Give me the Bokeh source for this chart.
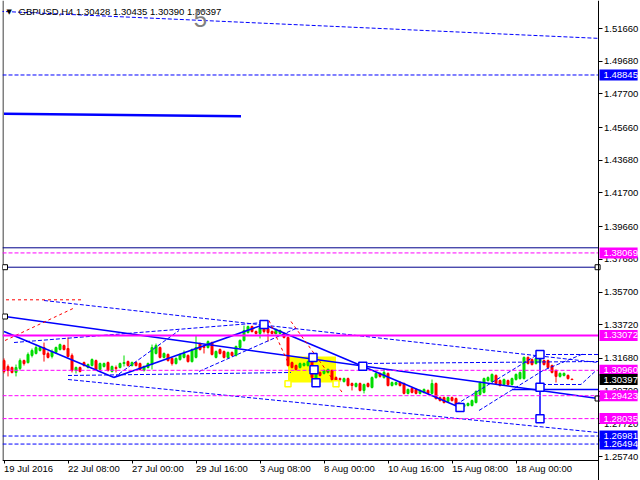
from bokeh.plotting import figure
from bokeh.models import Range1d, FixedTicker, PrintfTickFormatter, Label, GlobalInlineStyleSheet
from bokeh.core.properties import value
from bokeh.embed import file_html
from bokeh.resources import INLINE

BLUE = "#0000ff"
MAG = "#ff00ff"
RED = "#ff0000"
GREEN = "#00dc00"
FONT = "Liberation Sans"
FS = "9.5px"

# ---- H4 candles (bar index 0 = 19 Jul 2016 00:00) ----
opens = [
1.3155,1.3119,1.3113,1.3083,1.3107,1.3155,1.3143,1.3186,1.3198,1.3216,
1.3234,1.3198,1.3180,1.3204,1.3222,1.3246,1.3228,1.3186,1.3095,1.3113,
1.3143,1.3113,1.3125,1.3155,1.3101,1.3119,1.3143,1.3089,1.3113,1.3113,
1.3137,1.3149,1.3125,1.3143,1.3137,1.3095,1.3113,1.3131,1.3198,1.3234,
1.3174,1.3192,1.3168,1.3137,1.3161,1.3174,1.3186,1.3149,1.3174,1.3258,
1.3240,1.3234,1.3264,1.3174,1.3222,1.3210,1.3174,1.3204,1.3186,1.3234,
1.3277,1.3325,1.3361,1.3331,1.3319,1.3355,1.3349,1.3331,1.3319,1.3319,
1.3319,1.3295,1.3143,1.3125,1.3113,1.3125,1.3125,1.3149,1.3040,1.3083,
1.3077,1.3083,1.3095,1.3052,1.3046,1.3028,1.3046,1.3016,1.2998,1.3016,
1.2974,1.3016,1.2992,1.3052,1.3077,1.3052,1.3077,1.3004,1.3010,1.3022,
1.3016,1.2956,1.2986,1.2980,1.2956,1.2962,1.2974,1.2956,1.3016,1.2931,
1.2931,1.2907,1.2931,1.2925,1.2895,1.2877,1.2883,1.2883,1.2901,1.2950,
1.2962,1.3034,1.3028,1.3065,1.3034,1.3010,1.3034,1.3010,1.3040,1.3046,
1.3046,1.3174,1.3161,1.3137,1.3143,1.3155,1.3155,1.3125,1.3095,1.3059,
1.3065,1.3065,1.30428]
highs = [
1.3168,1.3131,1.3119,1.3131,1.3168,1.3161,1.3204,1.3228,1.3246,1.3240,
1.3264,1.3210,1.3222,1.3240,1.3258,1.3252,1.3295,1.3198,1.3119,1.3119,
1.3149,1.3137,1.3168,1.3161,1.3143,1.3143,1.3149,1.3125,1.3125,1.3143,
1.3186,1.3155,1.3149,1.3149,1.3143,1.3125,1.3143,1.3252,1.3258,1.3240,
1.3204,1.3198,1.3174,1.3174,1.3198,1.3216,1.3192,1.3228,1.3307,1.3264,
1.3246,1.3277,1.3270,1.3216,1.3228,1.3216,1.3210,1.3210,1.3246,1.3283,
1.3367,1.3367,1.3367,1.3337,1.3367,1.3367,1.3355,1.3337,1.3349,1.3343,
1.3325,1.3301,1.3149,1.3131,1.3143,1.3143,1.3155,1.3161,1.3101,1.3089,
1.3101,1.3107,1.3101,1.3059,1.3052,1.3052,1.3052,1.3022,1.3022,1.3022,
1.3016,1.3022,1.3059,1.3083,1.3083,1.3107,1.3083,1.3028,1.3028,1.3028,
1.3022,1.2986,1.2992,1.2986,1.2980,1.2986,1.2980,1.3040,1.3022,1.2937,
1.2937,1.2937,1.2937,1.2931,1.2901,1.2895,1.2901,1.2919,1.2974,1.3028,
1.3052,1.3059,1.3077,1.3071,1.3040,1.3046,1.3040,1.3052,1.3077,1.3089,
1.3180,1.3180,1.3168,1.3174,1.3174,1.3161,1.3161,1.3131,1.3101,1.3083,
1.3083,1.3071,1.30435]
lows = [
1.3077,1.3059,1.3077,1.3059,1.3095,1.3125,1.3137,1.3174,1.3192,1.3210,
1.3149,1.3168,1.3168,1.3198,1.3216,1.3216,1.3174,1.3083,1.3077,1.3083,
1.3119,1.3107,1.3119,1.3095,1.3095,1.3113,1.3089,1.3083,1.3083,1.3107,
1.3119,1.3119,1.3119,1.3119,1.3095,1.3089,1.3107,1.3101,1.3192,1.3168,
1.3168,1.3149,1.3125,1.3131,1.3155,1.3168,1.3143,1.3143,1.3168,1.3216,
1.3198,1.3228,1.3186,1.3168,1.3192,1.3168,1.3168,1.3180,1.3180,1.3228,
1.3270,1.3319,1.3325,1.3313,1.3289,1.3319,1.3270,1.3313,1.3313,1.3313,
1.3289,1.3119,1.3107,1.3095,1.3107,1.3119,1.3119,1.3040,1.3034,1.3059,
1.3071,1.3077,1.3034,1.3028,1.3028,1.3022,1.2998,1.2974,1.2992,1.2968,
1.2956,1.2992,1.2986,1.3046,1.3052,1.3046,1.2998,1.2998,1.3004,1.2998,
1.2950,1.2950,1.2956,1.2950,1.2950,1.2956,1.2950,1.2950,1.2919,1.2907,
1.2895,1.2901,1.2907,1.2877,1.2871,1.2871,1.2877,1.2877,1.2895,1.2943,
1.2956,1.3028,1.3022,1.3010,1.2998,1.3004,1.3004,1.3004,1.3034,1.3040,
1.3040,1.3131,1.3125,1.3131,1.3137,1.3125,1.3107,1.3077,1.3022,1.3052,
1.3059,1.3040,1.30390]
closes = [
1.3089,1.3095,1.3083,1.3113,1.3155,1.3137,1.3192,1.3216,1.3234,1.3234,
1.3192,1.3174,1.3210,1.3234,1.3252,1.3222,1.3180,1.3095,1.3113,1.3089,
1.3125,1.3131,1.3161,1.3101,1.3137,1.3137,1.3095,1.3119,1.3107,1.3137,
1.3143,1.3125,1.3143,1.3125,1.3101,1.3119,1.3137,1.3234,1.3246,1.3174,
1.3198,1.3155,1.3137,1.3168,1.3192,1.3198,1.3149,1.3222,1.3234,1.3222,
1.3234,1.3270,1.3192,1.3210,1.3198,1.3174,1.3204,1.3186,1.3240,1.3277,
1.3337,1.3361,1.3331,1.3319,1.3355,1.3331,1.3325,1.3319,1.3343,1.3337,
1.3295,1.3125,1.3113,1.3101,1.3137,1.3137,1.3149,1.3052,1.3095,1.3065,
1.3095,1.3101,1.3040,1.3034,1.3040,1.3046,1.3004,1.3004,1.3016,1.2974,
1.3010,1.2998,1.3052,1.3077,1.3059,1.3083,1.3004,1.3022,1.3022,1.3004,
1.2956,1.2980,1.2962,1.2956,1.2974,1.2980,1.2956,1.3016,1.2925,1.2913,
1.2901,1.2931,1.2913,1.2883,1.2883,1.2889,1.2895,1.2913,1.2968,1.3022,
1.3046,1.3052,1.3071,1.3016,1.3004,1.3040,1.3010,1.3046,1.3071,1.3083,
1.3174,1.3137,1.3131,1.3168,1.3168,1.3131,1.3113,1.3083,1.3059,1.3077,
1.3077,1.3046,1.30397]

tick_bars = [0, 16, 32, 48, 64, 80, 96, 112, 128]
tick_dates = ["19 Jul 2016", "22 Jul 08:00", "27 Jul 00:00", "29 Jul 16:00", "3 Aug 08:00",
              "8 Aug 00:00", "10 Aug 16:00", "15 Aug 08:00", "18 Aug 00:00"]
price_ticks = [1.51660, 1.49680, 1.47700, 1.45660, 1.43680, 1.41700, 1.39660, 1.37680,
               1.35700, 1.33720, 1.31680, 1.29700, 1.27720, 1.25740]

# horizontal levels
magenta_dashed_levels = [1.38069, 1.30960, 1.29423, 1.28035]
magenta_solid_levels = [1.33072]
blue_dashed_levels = [1.48845, 1.26981, 1.26494]
dark_solid_levels = [1.38379, 1.37204]

# trend lines (bar index, price)
solid_x = [[0.25, 148.5], [0.0, 27.5], [27.5, 65.0], [65.0, 114.0], [127.0, 148.5], [134.0, 134.0]]
solid_y = [[1.34219, 1.29253], [1.33310, 1.30525], [1.30525, 1.33734], [1.33734, 1.28708],
           [1.29798, 1.29798], [1.31918, 1.28023]]
thick_x = [0.0, 59.25]
thick_y = [1.46494, 1.46349]
dashed_x = [[-1.0, 148.5], [10.0, 148.5], [2.5, 65.0], [16.0, 71.75], [27.5, 43.75], [16.0, 148.5],
            [48.75, 73.0], [89.5, 148.5], [134.0, 148.5], [118.75, 134.75, 145.0], [113.0, 133.0],
            [134.5, 144.25, 147.75]]
dashed_y = [[1.52701, 1.51065], [1.35188, 1.31433], [1.32644, 1.33856], [1.30646, 1.30828],
            [1.30525, 1.33371], [1.30404, 1.27194], [1.30888, 1.33492], [1.31373, 1.31494],
            [1.31918, 1.31918], [1.28526, 1.30949, 1.31978], [1.28890, 1.31857],
            [1.30101, 1.30101, 1.30888]]
red_x = [[0.5, 19.25], [0.25, 17.25], [71.75, 84.75], [66.25, 71.0]]
red_y = [[1.35230, 1.35230], [1.32765, 1.34703], [1.33916, 1.29556], [1.33977, 1.31433]]
box_left, box_right, box_bottom, box_top = 71.0, 83.0, 1.30222, 1.31797
square_x = [65.0, 77.25, 77.5, 78.0, 89.7, 114.0, 134.0, 134.0, 134.0]
square_y = [1.33734, 1.31736, 1.30991, 1.30204, 1.31209, 1.28708, 1.31918, 1.29937, 1.28023]
small_sq_x = [0.25, 148.4, 0.25, 148.4]
small_sq_y = [1.37204, 1.37204, 1.34219, 1.29253]
yellow_sq_x = [71.0, 83.0]
yellow_sq_y = [1.30143, 1.30143]

price_boxes = [1.48845, 1.38069, 1.33072, 1.30960, 1.30397, 1.29423, 1.28035, 1.26981, 1.26494]
price_box_colors = [BLUE, MAG, MAG, MAG, "black", MAG, MAG, BLUE, BLUE]

X0 = -0.375          # left edge of the canvas (in bars)
XR = 148.5           # right price-scale line (in bars)
PX = 0.0006056       # price per pixel of this chart
Y_TOP = 1.53356      # price at the top edge
Y_TIME = 1.25498     # price at the time-scale line
Y_DATES = 1.25014    # price level of the time labels' middle

p = figure(width=640, height=480, output_backend="svg", toolbar_location=None,
           x_range=Range1d(X0, X0 + 638 / 4.0), y_range=Range1d(Y_TOP - 480 * PX, Y_TOP),
           y_axis_location="right", x_axis_location="below",
           min_border_left=2, min_border_right=0, min_border_top=0, min_border_bottom=0)
p.stylesheets = [GlobalInlineStyleSheet(css="body{margin:0;overflow:hidden;}")]
p.outline_line_color = None
p.xgrid.visible = False
p.ygrid.visible = False
p.background_fill_color = "white"
p.border_fill_color = "white"

p.yaxis.fixed_location = XR
p.yaxis.ticker = FixedTicker(ticks=price_ticks)
p.yaxis.formatter = PrintfTickFormatter(format="%.5f")
p.yaxis.major_tick_out = 4
p.yaxis.major_tick_in = 0
p.yaxis.minor_tick_line_color = None
p.yaxis.major_label_standoff = 2
p.yaxis.major_label_text_font = FONT
p.yaxis.major_label_text_font_size = FS
p.yaxis.major_label_text_color = "black"
p.yaxis.axis_line_color = "black"

p.xaxis.fixed_location = Y_TIME
p.xaxis.ticker = FixedTicker(ticks=tick_bars)
p.xaxis.bounds = (X0, XR)
p.xaxis.major_label_text_color = None
p.xaxis.major_tick_out = 3
p.xaxis.major_tick_in = 0
p.xaxis.minor_tick_line_color = None
p.xaxis.axis_line_color = "black"

# left border of the chart
p.segment(x0=[-0.25], x1=[-0.25], y0=[Y_TIME], y1=[Y_TOP], line_color="black", line_width=1)

# time labels, left-aligned on their ticks as on the terminal
p.text(x=tick_bars, y=[Y_DATES] * len(tick_bars), text=tick_dates, text_font=value(FONT),
       text_font_size=FS, text_color="black", text_baseline="middle", text_align="left")

# yellow zone
p.quad(left=[box_left], right=[box_right], bottom=[box_bottom], top=[box_top],
       fill_color="#ffff00", line_color=None)

# candles
bars = list(range(len(closes)))
up = [i for i in bars if closes[i] >= opens[i]]
dn = [i for i in bars if closes[i] < opens[i]]
for idx, col in ((up, GREEN), (dn, RED)):
    p.segment(x0=idx, x1=idx, y0=[lows[i] for i in idx], y1=[highs[i] for i in idx],
              line_color=col, line_width=1)
    p.vbar(x=idx, width=0.5, bottom=[min(opens[i], closes[i]) for i in idx],
           top=[max(opens[i], closes[i]) for i in idx], fill_color=col, line_color=col, line_width=1)

# trend lines
p.line(thick_x, thick_y, line_color=BLUE, line_width=2.5)
p.multi_line(solid_x, solid_y, line_color=BLUE, line_width=1.5)
p.multi_line(dashed_x, dashed_y, line_color=BLUE, line_width=1, line_dash="4 2")
p.multi_line(red_x, red_y, line_color=RED, line_width=1, line_dash="3 3")

def hlines(levels, color, width, dash):
    n = len(levels)
    p.segment(x0=[X0] * n, x1=[XR] * n, y0=levels, y1=levels,
              line_color=color, line_width=width, line_dash=dash)

hlines(dark_solid_levels, "#00008b", 1, "solid")
hlines(magenta_solid_levels, MAG, 2, "solid")
hlines(magenta_dashed_levels, MAG, 1, "4 2")
hlines(blue_dashed_levels, BLUE, 1, "4 2")

p.scatter(square_x, square_y, marker="square", size=8, fill_color="white", line_color=BLUE, line_width=1.5)
p.scatter(small_sq_x, small_sq_y, marker="square", size=5, fill_color="white", line_color="black", line_width=1)
p.scatter(yellow_sq_x, yellow_sq_y, marker="square", size=6, fill_color="white", line_color="#ffff00", line_width=1.5)

# price boxes on the right scale (drawn above the axis labels)
bx0 = XR + 0.375
bx1 = XR + 9.9
p.quad(left=[bx0] * len(price_boxes), right=[bx1] * len(price_boxes),
       bottom=[v - 5.5 * PX for v in price_boxes], top=[v + 5.5 * PX for v in price_boxes],
       fill_color=price_box_colors, line_color=None, level="overlay")
p.text(x=[XR + 1.4] * len(price_boxes), y=price_boxes, text=["%.5f" % v for v in price_boxes],
       text_color="white", text_font=value(FONT), text_font_size=FS,
       text_baseline="middle", text_align="left", level="overlay")

# header texts
p.add_layout(Label(x=4, y=469, x_units="screen", y_units="screen", text="\u25bc",
                   text_font="DejaVu Sans", text_font_size="7px", text_baseline="middle",
                   text_color="black"))
p.add_layout(Label(x=16, y=469, x_units="screen", y_units="screen",
                   text="GBPUSD,H4  1.30428 1.30435 1.30390 1.30397",
                   text_font=FONT, text_font_size=FS, text_baseline="middle",
                   text_color="black"))
p.add_layout(Label(x=198, y=462, x_units="screen", y_units="screen", text="5",
                   text_font="Liberation Sans", text_font_size="24px", text_baseline="middle",
                   text_align="center", text_color="#808080"))

open("out.html", "w").write(file_html(p, INLINE))
